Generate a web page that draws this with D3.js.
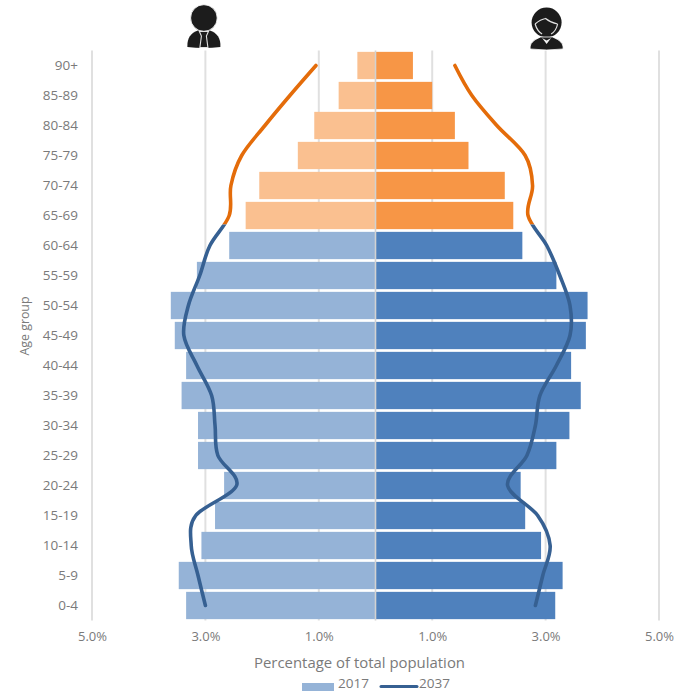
<!DOCTYPE html>
<html>
<head>
<meta charset="utf-8">
<style>
  html, body { margin: 0; padding: 0; background: #fff; }
  svg { display: block; }
  text { font-family: "Open Sans", "Noto Sans", sans-serif; fill: #7a7a7a; }
</style>
<script src="https://cdn.jsdelivr.net/npm/d3@7"></script>
</head>
<body>
<svg id="chart" width="679" height="692"></svg>
<script>
// Age groups, oldest first; the first six are the retirement-age bands
const ageGroups = ["90+","85-89","80-84","75-79","70-74","65-69","60-64","55-59","50-54","45-49","40-44","35-39","30-34","25-29","20-24","15-19","10-14","5-9","0-4"];
const olderGroups = ["90+","85-89","80-84","75-79","70-74","65-69"];

// Share of total population, per cent
const male2017   = [0.32,0.65,1.08,1.37,2.05,2.29,2.58,3.15,3.61,3.54,3.34,3.42,3.13,3.13,2.67,2.83,3.07,3.47,3.34];
const female2017 = [0.66,1.00,1.40,1.64,2.28,2.43,2.59,3.19,3.74,3.71,3.45,3.62,3.42,3.19,2.56,2.64,2.92,3.30,3.17];
const male2037   = [1.05,1.51,1.95,2.36,2.55,2.58,2.92,3.10,3.30,3.38,3.15,2.89,2.83,2.78,2.45,3.17,3.25,3.13,3.00];
const female2037 = [1.40,1.70,2.14,2.64,2.77,2.69,3.02,3.25,3.43,3.43,3.19,2.90,2.82,2.67,2.33,2.86,3.08,2.95,2.82];

const axisTicks = [1, 3, 5];
const legendEntries = ["2017", "2037"];

const colors = {
  male: "#95b3d7", female: "#4f81bd",
  maleOlder: "#fac090", femaleOlder: "#f79646",
  line: "#366092", lineOlder: "#e46c0a",
  grid: "#e0e0e0", centre: "#d2d2d2"
};

const svg = d3.select("#chart");
const centreX = 375.5, plotLeft = 92, plotRight = 659, plotTop = 50.5, plotBottom = 620.5;

const xMale = d3.scaleLinear().domain([0, 5]).range([centreX, plotLeft]);
const xFemale = d3.scaleLinear().domain([0, 5]).range([centreX, plotRight]);
const y = d3.scaleBand().domain(ageGroups).range([plotTop, plotBottom]).paddingInner(0.09).paddingOuter(0.045);
const mid = d => y(d) + y.bandwidth() / 2;
const isOlder = d => olderGroups.includes(d);

// Vertical gridlines behind the bars
const gridData = [
  ...axisTicks.map(t => xMale(t)),
  ...axisTicks.map(t => xFemale(t))
];
svg.append("g").selectAll("line").data(gridData).join("line")
  .attr("x1", d => d).attr("x2", d => d)
  .attr("y1", plotTop).attr("y2", plotBottom)
  .attr("stroke", colors.grid).attr("stroke-width", 2);

// 2017 bars on each side of the centre line
svg.append("g").selectAll("rect").data(ageGroups).join("rect")
  .attr("x", (d, i) => xMale(male2017[i]))
  .attr("y", d => y(d))
  .attr("width", (d, i) => centreX - xMale(male2017[i]))
  .attr("height", y.bandwidth())
  .attr("fill", d => isOlder(d) ? colors.maleOlder : colors.male);

svg.append("g").selectAll("rect").data(ageGroups).join("rect")
  .attr("x", centreX)
  .attr("y", d => y(d))
  .attr("width", (d, i) => xFemale(female2017[i]) - centreX)
  .attr("height", y.bandwidth())
  .attr("fill", d => isOlder(d) ? colors.femaleOlder : colors.female);

svg.append("line")
  .attr("x1", centreX).attr("x2", centreX)
  .attr("y1", plotTop).attr("y2", plotBottom)
  .attr("stroke", colors.centre).attr("stroke-width", 1.6);

// 2037 outlines: one smooth curve per side, split in colour at the 60+ boundary
const splitY = mid(olderGroups[olderGroups.length - 1]) + y.step() * 0.3;
const defs = svg.append("defs");
defs.append("clipPath").attr("id", "clip-older").append("rect")
  .attr("x", 0).attr("y", 0).attr("width", 679).attr("height", splitY);
defs.append("clipPath").attr("id", "clip-younger").append("rect")
  .attr("x", 0).attr("y", splitY).attr("width", 679).attr("height", 692 - splitY);

const outline = (scale, values) => d3.line()
  .x((d, i) => scale(values[i]))
  .y(d => mid(d))
  .curve(d3.curveCatmullRom.alpha(0))(ageGroups);

[[xMale, male2037], [xFemale, female2037]].forEach(([scale, values]) => {
  [["clip-older", colors.lineOlder], ["clip-younger", colors.line]].forEach(([clip, stroke]) => {
    svg.append("path")
      .attr("d", outline(scale, values))
      .attr("clip-path", `url(#${clip})`)
      .attr("fill", "none")
      .attr("stroke", stroke)
      .attr("stroke-width", 3.6)
      .attr("stroke-linecap", "round");
  });
});

// Axes
const fmt = d => d3.format(".1f")(d) + "%";
[xMale, xFemale].forEach(scale => {
  const g = svg.append("g")
    .attr("transform", `translate(0,${plotBottom + 8.5})`)
    .call(d3.axisBottom(scale).tickValues(axisTicks).tickFormat(fmt).tickSize(0));
  g.select(".domain").remove();
  g.attr("font-family", null);
  g.selectAll("text").style("font-size", "13px");
});

const yAxis = svg.append("g")
  .attr("transform", "translate(81,0)")
  .call(d3.axisLeft(y).tickSize(0));
yAxis.select(".domain").remove();
yAxis.attr("font-family", null);
yAxis.selectAll("text").style("font-size", "13.5px");

// Axis titles
svg.append("text")
  .attr("x", 359.5).attr("y", 668)
  .attr("text-anchor", "middle")
  .style("font-size", "14px")
  .attr("textLength", 211)
  .attr("lengthAdjust", "spacingAndGlyphs")
  .text("Percentage of total population");

svg.append("text")
  .attr("transform", "translate(29,326) rotate(-90)")
  .attr("text-anchor", "middle")
  .style("font-size", "13.5px")
  .attr("textLength", 59)
  .attr("lengthAdjust", "spacingAndGlyphs")
  .text("Age group");

// Legend
const legend = svg.append("g");
legend.append("rect")
  .attr("x", 302).attr("y", 683).attr("width", 32).attr("height", 8)
  .attr("fill", colors.male);
legend.append("text").attr("x", 338).attr("y", 688.2).style("font-size", "12.5px")
  .attr("textLength", 31).attr("lengthAdjust", "spacingAndGlyphs").text(legendEntries[0]);
legend.append("line")
  .attr("x1", 381).attr("x2", 417).attr("y1", 686.5).attr("y2", 686.5)
  .attr("stroke", colors.line).attr("stroke-width", 3).attr("stroke-linecap", "round");
legend.append("text").attr("x", 419).attr("y", 688.2).style("font-size", "12.5px")
  .attr("textLength", 31).attr("lengthAdjust", "spacingAndGlyphs").text(legendEntries[1]);

// Pictograms above the two sides of the pyramid
const ink = "#1c1c1c";
const pale = "#e2e2e2";
const man = svg.append("g").attr("transform", `translate(${xMale(3) - 1.5},0)`);
man.append("path").attr("fill", ink)
  .attr("d", "M-16.5,47 C-17,38 -13,33 -6,30.5 L6,30.5 C13,33 17,38 16.5,47 Q0,49 -16.5,47 Z");
man.append("circle").attr("cx", 0).attr("cy", 18).attr("r", 13.3)
  .attr("fill", ink).attr("stroke", "#fff").attr("stroke-width", 0.8);
man.append("path").attr("fill", ink).attr("stroke", pale).attr("stroke-width", 1.1)
  .attr("d", "M-4.5,31.5 L4.5,31.5 L2.5,36 L4,47.5 L-4,47.5 L-2.5,36 Z");

const woman = svg.append("g").attr("transform", `translate(${xFemale(3) + 1},0)`);
woman.append("circle").attr("cx", 0).attr("cy", 22.5).attr("r", 15).attr("fill", ink);
woman.append("path").attr("fill", ink).attr("stroke", "#fff").attr("stroke-width", 0.8)
  .attr("d", "M-16.5,49 C-17,43 -13,40 -6,37 L6,37 C13,40 17,43 16.5,49 Q0,51 -16.5,49 Z");
woman.append("path").attr("fill", "none").attr("stroke", pale).attr("stroke-width", 1.2)
  .attr("d", "M-11.5,24 C-8,21 -4,19 -1,18.5 C2,21 6,23 11,24 M-11.5,24 C-10,29 -8,32 -4.5,34 M11,24 C10,29 8,32 4.5,34");
woman.append("path").attr("fill", "#f2f2f2")
  .attr("d", "M-4.5,38 L0,44 L4.5,38 L0,40.5 Z");
</script>
</body>
</html>
